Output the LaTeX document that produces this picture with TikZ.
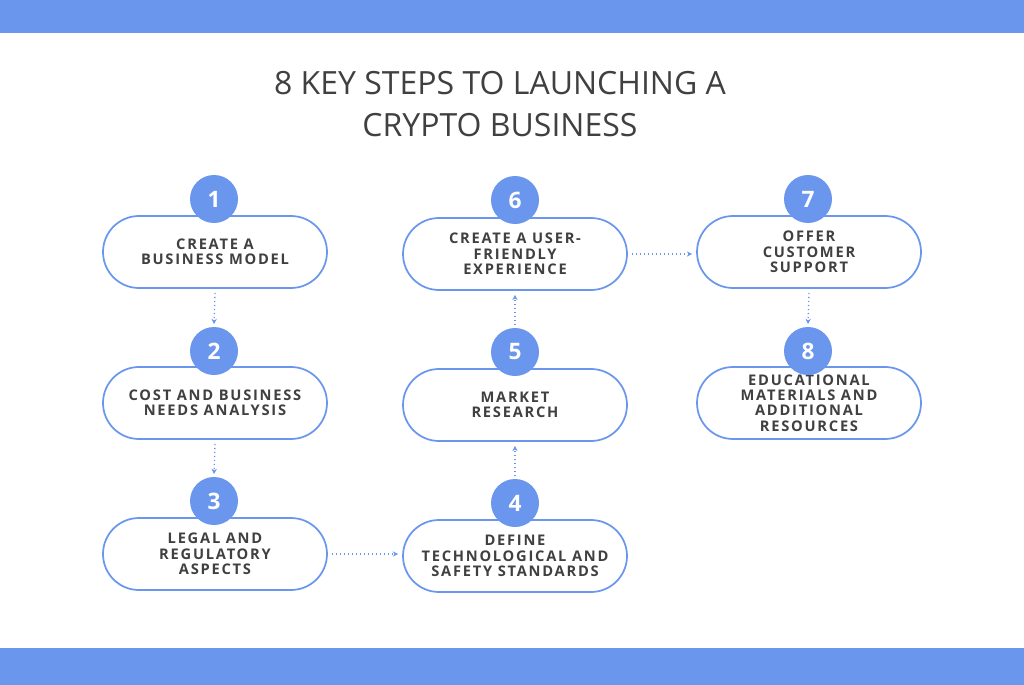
\documentclass[tikz,border=0pt]{standalone}
\usepackage{fontspec}
\setmainfont{Open Sans}
\newfontfamily\boxfont[LetterSpace=12]{Open Sans}
\usetikzlibrary{arrows.meta}
\definecolor{bl}{HTML}{6A96EE}
\definecolor{tx}{HTML}{404040}
\tikzset{
 stepbox/.style={draw=bl,line width=1.3pt,rounded corners=36*0.75pt,minimum width=224*0.75pt,minimum height=72*0.75pt,inner sep=0pt,fill=white,
   font=\boxfont\bfseries\fontsize{11}{11.5}\selectfont,text=tx,align=center},
 num/.style={circle,fill=bl,minimum size=48*0.75pt,inner sep=0pt,text=white,font=\bfseries\fontsize{17}{17}\selectfont},
 con/.style={bl,line width=1pt,dotted,-{Stealth[length=4pt,width=4pt]}}
}
\begin{document}
\begin{tikzpicture}[x=0.75pt,y=-0.75pt]
\useasboundingbox (0,0) rectangle (1024,685);
\fill[bl] (0,0) rectangle (1024,33);
\fill[bl] (0,648) rectangle (1024,685);
\node[text=tx,font=\fontsize{24}{31}\selectfont,align=center] (title) at (500,104) {8 KEY STEPS TO LAUNCHING A\\CRYPTO BUSINESS};
\node[stepbox] (b1) at (215,252) {CREATE A\\BUSINESS MODEL};
\node[stepbox] (b2) at (215,403) {COST AND BUSINESS\\NEEDS ANALYSIS};
\node[stepbox] (b3) at (215,554) {LEGAL AND\\REGULATORY\\ASPECTS};
\node[stepbox] (b4) at (515,556) {DEFINE\\TECHNOLOGICAL AND\\SAFETY STANDARDS};
\node[stepbox] (b5) at (515,405) {MARKET\\RESEARCH};
\node[stepbox] (b6) at (515,254) {CREATE A USER-\\FRIENDLY\\EXPERIENCE};
\node[stepbox] (b7) at (809,252) {OFFER\\CUSTOMER\\SUPPORT};
\node[stepbox] (b8) at (809,403) {EDUCATIONAL\\MATERIALS AND\\ADDITIONAL\\RESOURCES};
\node[num] (n1) at (214,199) {1};
\node[num] (n2) at (214,351) {2};
\node[num] (n3) at (214,501) {3};
\node[num] (n4) at (515,503) {4};
\node[num] (n5) at (515,352) {5};
\node[num] (n6) at (515,200) {6};
\node[num] (n7) at (808,199) {7};
\node[num] (n8) at (808,351) {8};
\draw[con] ([yshift=-3pt]b1.south) -- ([yshift=2pt]n2.north);
\draw[con] ([yshift=-3pt]b2.south) -- ([yshift=2pt]n3.north);
\draw[con] ([xshift=3pt]b3.east) -- ([xshift=-3pt]b3.east -| b4.west);
\draw[con] ([yshift=2pt]n4.north) -- ([yshift=-3pt]b5.south);
\draw[con] ([yshift=2pt]n5.north) -- ([yshift=-3pt]b6.south);
\draw[con] ([xshift=3pt]b6.east) -- ([xshift=-3pt]b6.east -| b7.west);
\draw[con] ([yshift=-3pt]b7.south) -- ([yshift=2pt]n8.north);
\end{tikzpicture}
\end{document}
